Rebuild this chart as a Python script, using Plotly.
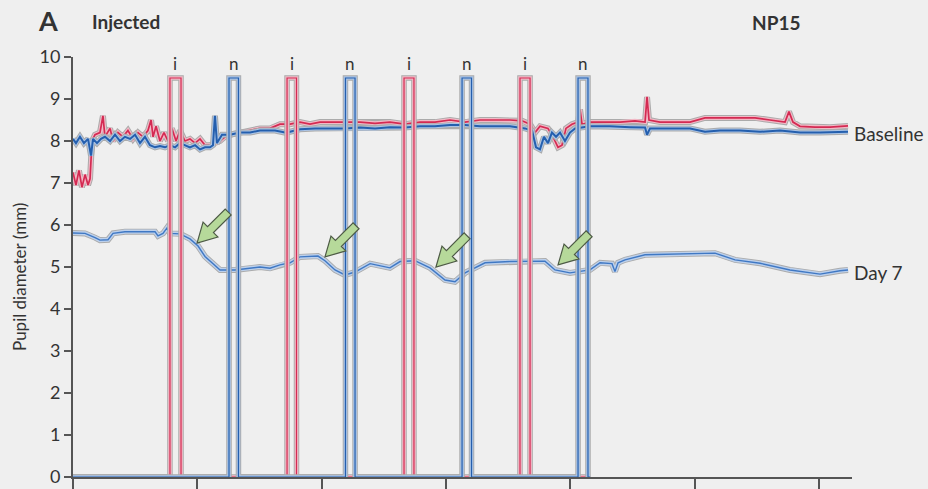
import plotly.graph_objects as go

# ---------------- data (x in seconds-like units, y in mm) ----------------
base_red_x = [0.0, 0.24, 0.48, 0.72, 0.97, 1.21, 1.37, 1.53, 1.77, 2.17, 2.41, 2.57, 2.98, 3.22, 3.62, 4.02,
              4.42, 4.83, 5.23, 5.63, 6.03, 6.28, 6.44, 6.68, 7.0, 7.32, 7.64, 7.96, 8.29, 8.61, 9.01, 9.41,
              9.82, 10.22, 10.62, 11.02, 11.42, 11.83, 12.23, 12.63, 13.44, 14.24, 15.04, 15.85, 16.65, 17.46,
              18.26, 19.07, 19.87, 20.68, 21.88, 23.09, 24.30, 25.50, 26.71, 27.92, 29.12, 30.33, 31.54, 32.74,
              33.95, 35.16, 36.12, 36.77, 37.17, 37.57, 38.21, 38.62, 39.02, 39.34, 39.66, 40.14, 40.63, 40.79,
              40.95, 41.59, 42.80, 44.01, 45.21, 46.02, 46.18, 46.34, 47.22, 48.43, 49.64, 50.84, 52.05, 53.66,
              54.87, 56.07, 57.28, 57.60, 57.92, 58.49, 59.69, 60.90, 62.35]
base_red_y = [7.25, 6.95, 7.3, 6.9, 7.2, 6.95, 7.1, 8.0, 8.15, 8.2, 8.6, 8.1, 8.3, 8.0, 8.2, 8.1,
              8.25, 8.05, 8.2, 8.1, 8.25, 8.5, 8.1, 8.35, 8.0, 8.2, 8.0, 8.3, 8.0, 8.25, 8.0, 8.05,
              7.95, 8.05, 7.9, 7.9, 7.95, 8.0, 8.1, 8.15, 8.2, 8.25, 8.3, 8.3, 8.4, 8.4,
              8.45, 8.4, 8.45, 8.45, 8.45, 8.45, 8.42, 8.45, 8.4, 8.45, 8.45, 8.5, 8.45, 8.5,
              8.5, 8.5, 8.48, 8.4, 8.2, 8.35, 8.3, 8.1, 7.85, 7.9, 8.3, 8.4, 8.45, 8.75,
              8.4, 8.45, 8.45, 8.45, 8.48, 8.45, 9.05, 8.5, 8.45, 8.45, 8.45, 8.55, 8.55, 8.55,
              8.55, 8.5, 8.45, 8.7, 8.45, 8.35, 8.33, 8.33, 8.36]

base_blue_x = [0.0, 0.24, 0.56, 0.88, 1.21, 1.45, 1.61, 1.93, 2.25, 2.57, 2.98, 3.38, 3.78, 4.18, 4.59, 4.99,
               5.39, 5.79, 6.19, 6.60, 7.00, 7.40, 7.80, 8.21, 8.61, 9.01, 9.41, 9.82, 10.22, 10.62, 11.02,
               11.26, 11.42, 11.58, 11.99, 12.63, 13.44, 14.24, 15.04, 16.25, 17.06, 17.46, 18.26, 19.47,
               20.68, 21.88, 23.09, 24.30, 25.50, 26.71, 27.92, 29.12, 30.33, 31.54, 32.74, 33.95, 35.16,
               36.36, 36.93, 37.25, 37.57, 37.89, 38.21, 38.53, 38.86, 39.18, 39.58, 39.98, 40.39, 41.59,
               43.20, 44.81, 46.02, 46.18, 46.42, 48.03, 49.64, 50.84, 52.05, 53.66, 55.27, 56.88, 58.49,
               60.10, 62.35]
base_blue_y = [8.05, 7.95, 8.1, 7.95, 8.05, 7.65, 8.05, 7.95, 8.05, 8.1, 8.0, 8.15, 8.0, 8.1, 8.05, 8.15,
               7.95, 8.1, 7.9, 7.85, 7.88, 7.85, 7.9, 7.85, 7.95, 7.9, 7.85, 7.9, 7.8, 7.85, 7.85,
               7.9, 8.6, 7.95, 8.15, 8.15, 8.2, 8.2, 8.25, 8.25, 8.2, 8.22, 8.28, 8.3,
               8.3, 8.3, 8.32, 8.3, 8.33, 8.32, 8.35, 8.35, 8.38, 8.38, 8.35, 8.35, 8.35,
               8.3, 8.25, 7.85, 7.8, 8.1, 7.95, 8.2, 8.1, 8.2, 8.0, 8.2, 8.3, 8.35,
               8.35, 8.33, 8.32, 8.15, 8.3, 8.3, 8.3, 8.22, 8.25, 8.25, 8.22, 8.25, 8.2,
               8.2, 8.22]

day7_x = [0.0, 0.97, 1.77, 2.17, 2.82, 3.22, 4.18, 5.39, 6.60, 6.84, 7.24, 7.56, 7.80, 8.61, 9.41, 10.06,
          10.62, 11.18, 11.83, 13.03, 14.24, 15.04, 15.85, 16.65, 17.46, 18.26, 19.71, 20.27, 21.08, 21.88,
          22.69, 23.90, 25.50, 26.31, 27.51, 28.72, 29.93, 30.73, 31.54, 33.15, 35.16, 37.97, 38.78, 39.98,
          41.59, 42.40, 43.36, 43.60, 43.85, 44.41, 46.02, 50.44, 51.65, 53.26, 55.27, 57.68, 60.10, 61.71,
          62.35]
day7_y = [5.81, 5.8, 5.7, 5.64, 5.65, 5.8, 5.84, 5.84, 5.84, 5.74, 5.8, 5.93, 5.8, 5.79, 5.67, 5.5,
          5.25, 5.1, 4.93, 4.93, 4.98, 5.0, 4.97, 5.05, 5.1, 5.24, 5.26, 5.15, 4.93, 4.81,
          4.88, 5.08, 4.98, 5.13, 5.15, 4.98, 4.69, 4.65, 4.86, 5.1, 5.13, 5.14, 4.93, 4.86,
          4.93, 5.1, 5.08, 4.89, 5.1, 5.17, 5.29, 5.33, 5.33, 5.17, 5.09, 4.93, 4.83, 4.91,
          4.93]

# stimulus pulses (onset, offset), amplitude
pulse_i_on = [7.80, 17.22, 26.63, 35.96]
pulse_i_off = [8.69, 17.98, 27.43, 36.77]
pulse_n_on = [12.55, 21.92, 31.30, 40.63]
pulse_n_off = [13.31, 22.69, 32.06, 41.43]
pulse_amp = 9.5
stim_end = 41.6

# arrow tips (x, y) marking pupil constriction on day 7
arrow_tip_x = [9.98, 20.27, 29.20, 39.02]
arrow_tip_y = [5.57, 5.24, 5.00, 5.05]

y_ticks = [0, 1, 2, 3, 4, 5, 6, 7, 8, 9, 10]
x_ticks = [0, 10, 20, 30, 40, 50, 60]

# ---------------- styling ----------------
W, H = 928, 489
ML, MR, MT, MB = 73, 76, 57, 12
XR = [0, 62.67]
YR = [0, 10]
px_per_x = (W - ML - MR) / (XR[1] - XR[0])
px_per_y = (H - MT - MB) / (YR[1] - YR[0])

BG = "#efefef"
OUT = "#ababab"
RED, RED_PALE = "#d42a52", "#f2b9c6"
BLUE, BLUE_PALE = "#245fae", "#aac4e6"
D7, D7_PALE = "#3f78c4", "#bcd0ec"
TXT = "#333333"
FONT = "Lato"

fig = go.Figure()


def halo_line(x, y, dark, pale, w_out=6.0, w_pale=4.0, w_in=1.7):
    fig.add_trace(go.Scatter(x=x, y=y, mode="lines", line=dict(color=OUT, width=w_out),
                             hoverinfo="skip", showlegend=False))
    fig.add_trace(go.Scatter(x=x, y=y, mode="lines", line=dict(color=pale, width=w_pale),
                             hoverinfo="skip", showlegend=False))
    fig.add_trace(go.Scatter(x=x, y=y, mode="lines", line=dict(color=dark, width=w_in),
                             showlegend=False))


def pulse_train(ons, offs, amp, end):
    xs, ys = [0.0], [0.0]
    for a, b in zip(ons, offs):
        xs += [a, a, b, b]
        ys += [0.0, amp, amp, 0.0]
    xs.append(end)
    ys.append(0.0)
    return xs, ys


halo_line(base_red_x, base_red_y, RED, RED_PALE)
halo_line(base_blue_x, base_blue_y, BLUE, BLUE_PALE, w_in=2.0)
halo_line(day7_x, day7_y, D7, D7_PALE, w_out=6, w_pale=4.2, w_in=1.4)

ix, iy = pulse_train(pulse_i_on, pulse_i_off, pulse_amp, stim_end)
nx, ny = pulse_train(pulse_n_on, pulse_n_off, pulse_amp, stim_end)
halo_line(ix, iy, RED, RED_PALE, w_out=5.5, w_pale=3.6, w_in=1.2)
halo_line(nx, ny, BLUE, BLUE_PALE, w_out=5.5, w_pale=3.6, w_in=1.2)

# pulse labels
for a, b in zip(pulse_i_on, pulse_i_off):
    fig.add_annotation(x=(a + b) / 2, y=9.84, text="i", showarrow=False,
                       font=dict(family=FONT, size=17, color=TXT), yanchor="middle")
for a, b in zip(pulse_n_on, pulse_n_off):
    fig.add_annotation(x=(a + b) / 2, y=9.84, text="n", showarrow=False,
                       font=dict(family=FONT, size=17, color=TXT), yanchor="middle")

# arrows as filled polygons (built in pixel geometry, converted to data units)
L, HL, HW, SW = 44, 19, 10.5, 4.2
ux, uy = 0.7071, 0.7071  # direction tip->tail in pixel space (right, up)
vx, vy = -uy, ux
local = [(0, 0), (HL, HW), (HL, SW), (L, SW), (L, -SW), (HL, -SW), (HL, -HW)]
for tx, ty in zip(arrow_tip_x, arrow_tip_y):
    pts = []
    for a, b in local:
        dxp = a * ux + b * vx
        dyp = a * uy + b * vy
        pts.append((tx + dxp / px_per_x, ty + dyp / px_per_y))
    path = "M " + " L ".join(f"{p[0]:.4f},{p[1]:.4f}" for p in pts) + " Z"
    fig.add_shape(type="path", path=path, xref="x", yref="y",
                  fillcolor="#b6d99a", line=dict(color="#4d5a45", width=1.2))


def px_to_paper(px, py):
    return (px - ML) / (W - ML - MR), (H - MB - py) / (H - MT - MB)


def label(px, py, text, size, xanchor="left", angle=0):
    x, y = px_to_paper(px, py)
    fig.add_annotation(xref="paper", yref="paper", x=x, y=y, text=text, showarrow=False,
                       xanchor=xanchor, yanchor="middle", textangle=angle,
                       font=dict(family=FONT, size=size, color=TXT))


# series labels
label(852, 133, "Baseline", 19)
label(852, 272, "Day 7", 19)

# panel headings
label(48, 20, "<b>A</b>", 27, xanchor="center")
label(90, 21, "<b>Injected</b>", 19)
label(750, 22, "<b>NP15</b>", 19)
label(19, 277, "Pupil diameter (mm)", 17, xanchor="center", angle=-90)

fig.update_layout(
    width=W, height=H,
    margin=dict(l=ML, r=MR, t=MT, b=MB, autoexpand=False),
    paper_bgcolor=BG, plot_bgcolor=BG,
    showlegend=False,
    xaxis=dict(range=XR, tickvals=x_ticks, showticklabels=False, ticks="outside", ticklen=13,
               tickwidth=2, tickcolor="#555", showline=True, linecolor="#555", linewidth=2,
               showgrid=False, zeroline=False, automargin=False, fixedrange=True),
    yaxis=dict(range=YR, tickvals=y_ticks, ticktext=[str(v) for v in y_ticks], ticks="outside",
               ticklen=7, tickwidth=2, tickcolor="#555", showline=True, linecolor="#555", linewidth=2,
               showgrid=False, zeroline=False, automargin=False, fixedrange=True,
               tickfont=dict(family=FONT, size=18, color=TXT)),
)

fig.write_html(
    "out.html",
    config={"displayModeBar": False},
    post_script="document.body.style.margin='0';document.body.style.background='#efefef';",
)
